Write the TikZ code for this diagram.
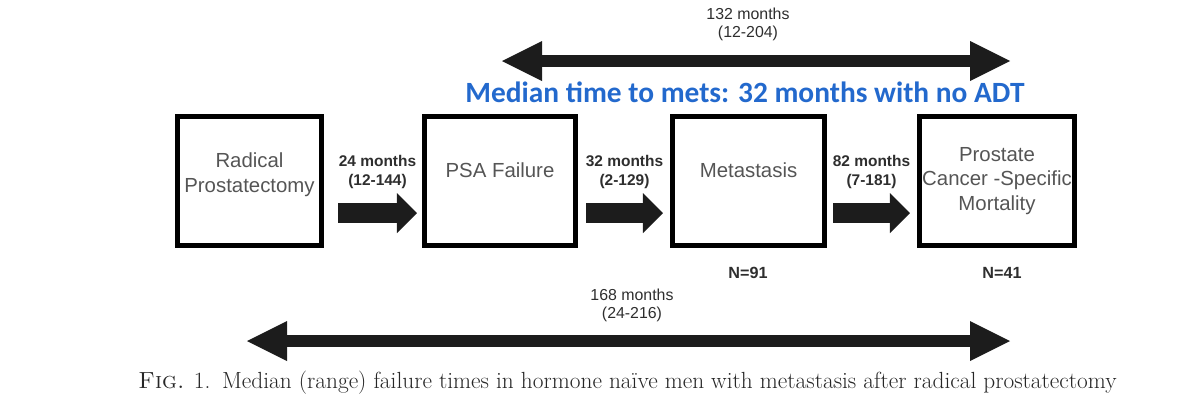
\documentclass[tikz,border=0pt]{standalone}
\usepackage{fontspec}
\newfontfamily\arialfont{Liberation Sans}
\newfontfamily\calibrifont{Carlito}
\usetikzlibrary{arrows.meta}

\definecolor{boxgray}{HTML}{555555}
\definecolor{labelgray}{HTML}{2E2E2E}
\definecolor{captiongray}{HTML}{262626}
\definecolor{metsblue}{RGB}{35,105,205}
\definecolor{arrowblack}{HTML}{1C1C1C}

\tikzset{
	stage/.style={draw=black, line width=0.125cm, minimum height=3.225cm, inner sep=0pt},
	stagetext/.style={font=\arialfont\fontsize{14.5}{17.7}\selectfont, text=boxgray, align=center},
	gaptext/.style={font=\arialfont\bfseries\fontsize{11}{14.2}\selectfont, text=labelgray, align=center},
	spantext/.style={font=\arialfont\fontsize{11.3}{12.8}\selectfont, text=labelgray, align=center},
	counttext/.style={font=\arialfont\bfseries\fontsize{11.5}{14}\selectfont, text=labelgray},
	blockarrow/.style={arrowblack, line width=0.5cm,
		-{Triangle[length=0.5cm, width=1cm, line width=0pt]}},
	spanarrow/.style={arrowblack, line width=0.3cm,
		{Triangle[length=1cm, width=1cm, line width=0pt]}-{Triangle[length=1cm, width=1cm, line width=0pt]}}
}

\begin{document}
\begin{tikzpicture}[x=0.025cm, y=-0.025cm]
\useasboundingbox (0,0) rectangle (1200,417);

% Radical prostatectomy
\node [stage,
	minimum width=3.6cm] (rp) at (249.5,181) {};
\node [stagetext] (rptext) at ([yshift=0.16cm]rp.center) {Radical\\Prostatectomy};

% PSA failure
\node [stage,
	minimum width=3.775cm] (psa) at (500,181) {};
\node [stagetext] (psatext) at ([yshift=0.275cm]psa.center) {PSA Failure};

% Metastasis
\node [stage,
	minimum width=3.8cm] (meta) at (748.5,181) {};
\node [stagetext] (metatext) at ([yshift=0.275cm]meta.center) {Metastasis};

% Cancer-specific mortality
\node [stage,
	minimum width=3.875cm] (pcsm) at (997,181) {};
\node [stagetext] (pcsmtext) at (pcsm.center) {Prostate\\Cancer -Specific\\Mortality};

% Steps between stages
\draw [blockarrow] ([shift={(0.35cm,-0.8cm)}]rp.east) -- ([shift={(-0.125cm,-0.8cm)}]psa.west)
	node [gaptext, midway, yshift=1.025cm] (gap1) {24 months\\(12-144)};
\draw [blockarrow] ([shift={(0.2cm,-0.8cm)}]psa.east) -- ([shift={(-0.175cm,-0.8cm)}]meta.west)
	node [gaptext, midway, yshift=1.025cm] (gap2) {32 months\\(2-129)};
\draw [blockarrow] ([shift={(0.15cm,-0.8cm)}]meta.east) -- ([shift={(-0.175cm,-0.8cm)}]pcsm.west)
	node [gaptext, midway, yshift=1.025cm] (gap3) {82 months\\(7-181)};

% Patient counts
\node [counttext] (n91) at (748,273) {N=91};
\node [counttext] (n41) at (1002,273) {N=41};

% Span PSA failure -> death
\coordinate (topleft) at (502,61);
\coordinate (topright) at (1010,61);
\draw [spanarrow] (topleft) -- (topright);
\node [spantext] (toplen) at (748,24) {132 months\\(12-204)};

\node [font=\calibrifont\bfseries\fontsize{20.9}{25}\selectfont,
	text=metsblue] (mets) at (745,92) {Median time to mets: 32 months with no ADT};

% Span surgery -> death
\coordinate (botleft) at (247,341);
\coordinate (botright) at (1010,341);
\draw [spanarrow] (botleft) -- (botright);
\node [spantext] (botlen) at (632,305) {168 months\\(24-216)};

% Caption
\node [font=\fontsize{16.6}{20}\selectfont,
	text=captiongray] (caption) at (627.5,383) {\textsc{Fig.} 1.\enspace Median (range) failure times in hormone naïve men with metastasis after radical prostatectomy};

\end{tikzpicture}
\end{document}
